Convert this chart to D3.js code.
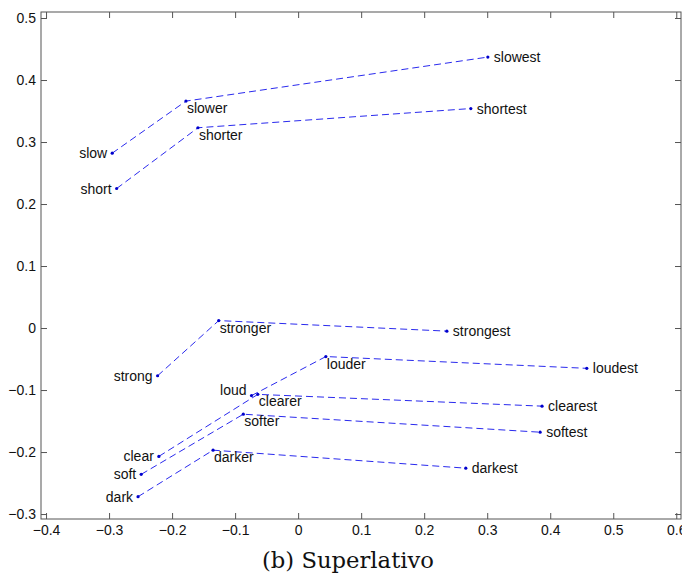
<!DOCTYPE html>
<html>
<head>
<meta charset="utf-8">
<style>
  body { margin: 0; background: #fff; }
  text { font-family: "Liberation Sans", Arial, sans-serif; }
</style>
</head>
<body>
<svg width="682" height="576"></svg>
<script src="https://cdn.jsdelivr.net/npm/d3@7"></script>
<script>
// ---- data ----
var baseWords = ["slow", "short", "strong", "loud", "clear", "soft", "dark"];
var compWords = ["slower", "shorter", "stronger", "louder", "clearer", "softer", "darker"];
var supWords  = ["slowest", "shortest", "strongest", "loudest", "clearest", "softest", "darkest"];

var baseX = [-0.295, -0.288, -0.223, -0.074, -0.221, -0.249, -0.254];
var baseY = [ 0.282,  0.225, -0.077, -0.109, -0.207, -0.236, -0.272];
var compX = [-0.178, -0.159, -0.126,  0.044, -0.064, -0.087, -0.135];
var compY = [ 0.366,  0.323,  0.012, -0.046, -0.107, -0.139, -0.197];
var supX  = [ 0.301,  0.274,  0.236,  0.458,  0.387,  0.384,  0.266];
var supY  = [ 0.437,  0.354, -0.005, -0.065, -0.126, -0.168, -0.226];

var xTicks = [-0.4, -0.3, -0.2, -0.1, 0, 0.1, 0.2, 0.3, 0.4, 0.5, 0.6];
var yTicks = [-0.3, -0.2, -0.1, 0, 0.1, 0.2, 0.3, 0.4, 0.5];
var caption = "(b) Superlativo";

// ---- layout ----
var svg = d3.select("svg");
var box = {left: 41, top: 12, right: 681, bottom: 519};

var x = d3.scaleLinear().domain([-0.408, 0.6075]).range([box.left, box.right]);
var y = d3.scaleLinear().domain([-0.308, 0.5097]).range([box.bottom, box.top]);

var fmt = function(d){ return d === 0 ? "0" : d3.format(".1f")(d); };
var axisColor = "#555";

function styleAxis(g){
  g.select(".domain").remove();
  g.selectAll(".tick line").attr("stroke", axisColor);
  g.selectAll(".tick text").attr("fill", "#111").style("font-size", "14px");
}

svg.append("g").attr("transform", "translate(0," + box.bottom + ")")
  .call(d3.axisBottom(x).tickValues(xTicks).tickFormat(fmt).tickSize(-6).tickPadding(6))
  .call(styleAxis);
svg.append("g").attr("transform", "translate(0," + box.top + ")")
  .call(d3.axisTop(x).tickValues(xTicks).tickFormat("").tickSize(-6))
  .call(styleAxis);
svg.append("g").attr("transform", "translate(" + box.left + ",0)")
  .call(d3.axisLeft(y).tickValues(yTicks).tickFormat(fmt).tickSize(-6).tickPadding(5))
  .call(styleAxis);
svg.append("g").attr("transform", "translate(" + box.right + ",0)")
  .call(d3.axisRight(y).tickValues(yTicks).tickFormat("").tickSize(-6))
  .call(styleAxis);

svg.append("rect")
  .attr("x", box.left).attr("y", box.top)
  .attr("width", box.right - box.left).attr("height", box.bottom - box.top)
  .attr("fill", "none").attr("stroke", axisColor).attr("stroke-width", 1);

// ---- series: base -> comparative -> superlative ----
var rows = baseWords.map(function(w, i){
  return {
    base: w, comp: compWords[i], sup: supWords[i],
    pts: [[baseX[i], baseY[i]], [compX[i], compY[i]], [supX[i], supY[i]]]
  };
});

var line = d3.line().x(function(d){ return x(d[0]); }).y(function(d){ return y(d[1]); });

var plot = svg.append("g");

plot.selectAll("path.trend").data(rows).enter().append("path")
  .attr("class", "trend")
  .attr("d", function(d){ return line(d.pts); })
  .attr("fill", "none")
  .attr("stroke", "#2a2aee")
  .attr("stroke-width", 1)
  .attr("stroke-dasharray", "7,4");

var allPts = [];
rows.forEach(function(r){ r.pts.forEach(function(p){ allPts.push(p); }); });
plot.selectAll("circle").data(allPts).enter().append("circle")
  .attr("cx", function(d){ return x(d[0]); })
  .attr("cy", function(d){ return y(d[1]); })
  .attr("r", 1.6)
  .attr("fill", "#0000cc");

// labels
var nudge = {loud: -6};
plot.selectAll("text.base").data(rows).enter().append("text")
  .attr("x", function(d){ return x(d.pts[0][0]) - 5; })
  .attr("y", function(d){ return y(d.pts[0][1]) + 5 + (nudge[d.base] || 0); })
  .attr("text-anchor", "end")
  .style("font-size", "14px").attr("fill", "#111")
  .text(function(d){ return d.base; });

plot.selectAll("text.comp").data(rows).enter().append("text")
  .attr("x", function(d){ return x(d.pts[1][0]) + 1; })
  .attr("y", function(d){ return y(d.pts[1][1]) + 12; })
  .style("font-size", "14px").attr("fill", "#111")
  .text(function(d){ return d.comp; });

plot.selectAll("text.sup").data(rows).enter().append("text")
  .attr("x", function(d){ return x(d.pts[2][0]) + 6; })
  .attr("y", function(d){ return y(d.pts[2][1]) + 5; })
  .style("font-size", "14px").attr("fill", "#111")
  .text(function(d){ return d.sup; });

// caption
svg.append("text")
  .attr("x", 262).attr("y", 568)
  .attr("textLength", 172).attr("lengthAdjust", "spacingAndGlyphs")
  .style("font-family", "'DejaVu Serif', 'Liberation Serif', serif")
  .style("font-size", "22px").attr("fill", "#111")
  .text(caption);
</script>
</body>
</html>
